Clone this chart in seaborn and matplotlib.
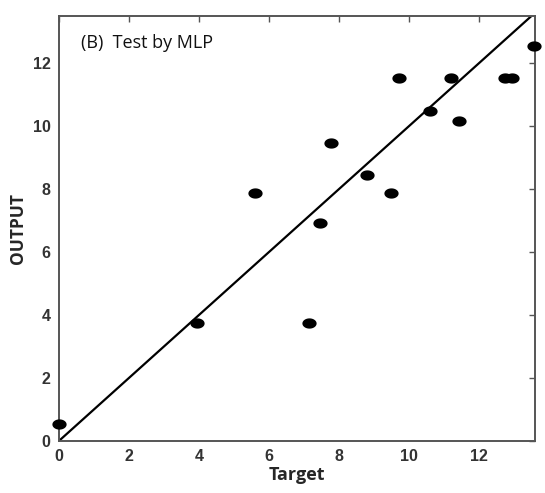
import numpy as np
import pandas as pd
import matplotlib
matplotlib.use("Agg")
import matplotlib.pyplot as plt
from matplotlib.path import Path
import seaborn as sns

target = [0.0, 3.93, 5.6, 7.15, 7.46, 7.77, 8.79, 9.48, 9.71, 10.61, 11.2, 11.42, 12.74, 12.95, 13.58]
output = [0.53, 3.76, 7.86, 3.76, 6.93, 9.47, 8.44, 7.86, 11.53, 10.48, 11.53, 10.17, 11.53, 11.53, 12.55]
xticks = [0, 2, 4, 6, 8, 10, 12]
yticks = [0, 2, 4, 6, 8, 10, 12]
fit_line = [0, 13.6]

df = pd.DataFrame({"Target": target, "OUTPUT": output})

sns.set_style("white")
plt.rcParams["font.family"] = ["Liberation Sans", "DejaVu Sans"]

fig = plt.figure(figsize=(5.45, 4.93), dpi=100)
ax = fig.add_axes([0.108, 0.1055, 0.874, 0.8625])

t = np.linspace(0, 2 * np.pi, 60)
ell = Path(np.column_stack([np.cos(t), 0.72 * np.sin(t)]))

sns.lineplot(x=fit_line, y=fit_line, ax=ax, color="black", lw=1.6)
sns.scatterplot(data=df, x="Target", y="OUTPUT", ax=ax, marker=ell, s=105,
                color="black", edgecolor="black", linewidth=0, zorder=5, clip_on=False)

ax.set_xlim(0, 13.6)
ax.set_ylim(0, 13.5)
ax.set_xticks(xticks)
ax.set_yticks(yticks)
ax.tick_params(direction="in", length=4, width=1, colors="#555555",
               top=True, right=True, labelsize=11.5, pad=6)
for lab in ax.get_xticklabels() + ax.get_yticklabels():
    lab.set_fontweight("bold")
    lab.set_color("#333333")
for s in ax.spines.values():
    s.set_color("#555555")
    s.set_linewidth(1.4)

ax.set_xlabel("Target", fontsize=13, fontweight="bold", family="Open Sans", labelpad=1)
ax.set_ylabel("OUTPUT", fontsize=12.5, fontweight="bold", family="Open Sans", labelpad=4)
ax.text(0.62, 12.62, "(B)  Test by MLP", fontsize=13, family="Open Sans",
        va="center", ha="left", color="#111111")

fig.savefig("out.png", dpi=100)
